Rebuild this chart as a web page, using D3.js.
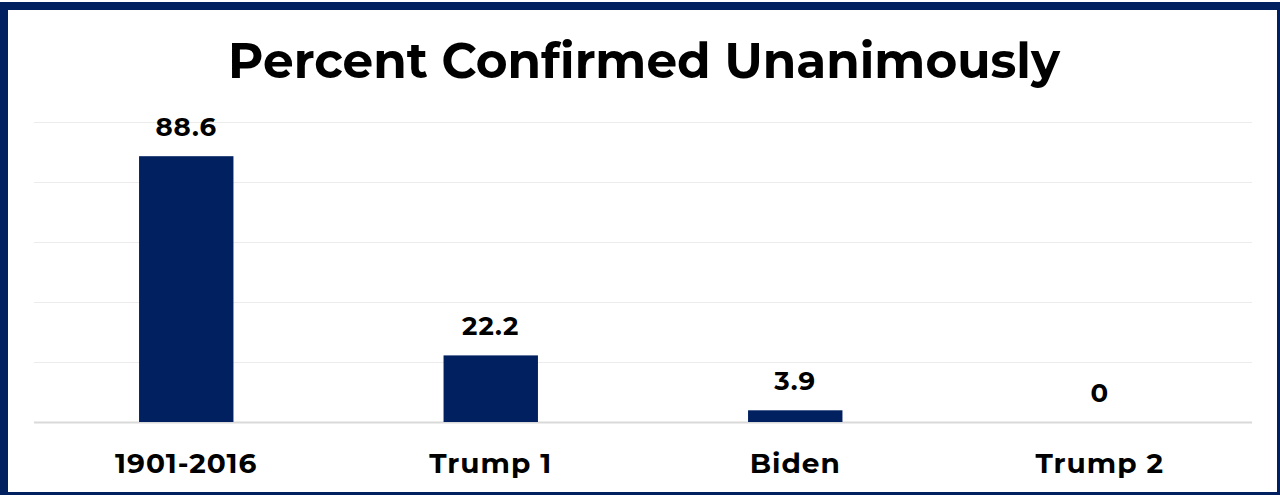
<!DOCTYPE html>
<html>
<head>
<meta charset="utf-8">
<script src="https://cdn.jsdelivr.net/npm/d3@7"></script>
<style>
  html, body { margin: 0; padding: 0; background: #fff; }
  svg { display: block; }
  text { font-family: "Montserrat", "Open Sans", "Lato", sans-serif; font-weight: 700; fill: #000; }
</style>
</head>
<body>
<svg id="chart" width="1280" height="495"></svg>
<script>
const categories = ["1901-2016", "Trump 1", "Biden", "Trump 2"];
const values = [88.6, 22.2, 3.9, 0];
const gridTicks = [0, 20, 40, 60, 80, 100];
const chartTitle = "Percent Confirmed Unanimously";

const W = 1280, H = 495;
const navy = "#002060";
const svg = d3.select("#chart");

// frame
svg.append("rect").attr("x", 0).attr("y", 2).attr("width", W).attr("height", H - 2).attr("fill", navy);
svg.append("rect").attr("x", 8).attr("y", 10).attr("width", 1277 - 8).attr("height", 492 - 10).attr("fill", "#fff");

const plot = { left: 34, right: 1252, top: 122, bottom: 422 };

const x = d3.scaleBand().domain(categories).range([plot.left, plot.right]).paddingInner(0.69).paddingOuter(0.345);
const y = d3.scaleLinear().domain([0, 100]).range([plot.bottom, plot.top]);

// gridlines
const grid = svg.append("g");
grid.selectAll("line").data(gridTicks).join("line")
  .attr("x1", plot.left).attr("x2", plot.right)
  .attr("y1", d => y(d) + 0.5).attr("y2", d => y(d) + 0.5)
  .attr("stroke", d => d === 0 ? "#d9d9d9" : "#ececec")
  .attr("stroke-width", d => d === 0 ? 2 : 1.2);

// bars
svg.append("g").selectAll("rect").data(values).join("rect")
  .attr("x", (d, i) => x(categories[i]))
  .attr("width", x.bandwidth())
  .attr("y", d => y(d))
  .attr("height", d => y(0) - y(d))
  .attr("fill", navy);

// value labels
svg.append("g").selectAll("text").data(values).join("text")
  .attr("x", (d, i) => x(categories[i]) + x.bandwidth() / 2)
  .attr("y", d => y(d) - 20)
  .attr("text-anchor", "middle")
  .attr("font-size", 26)
  .attr("letter-spacing", 1)
  .text(d => String(d));

// category axis labels
svg.append("g").selectAll("text").data(categories).join("text")
  .attr("x", d => x(d) + x.bandwidth() / 2)
  .attr("y", 473)
  .attr("text-anchor", "middle")
  .attr("font-size", 28)
  .attr("letter-spacing", 1)
  .text(d => d);

// title, sized to span its width
const title = svg.append("text")
  .attr("x", 644).attr("y", 78)
  .attr("text-anchor", "middle")
  .attr("font-size", 50)
  .text(chartTitle);
const tw = title.node().getComputedTextLength();
title.attr("font-size", 50 * 832 / tw);
</script>
</body>
</html>
